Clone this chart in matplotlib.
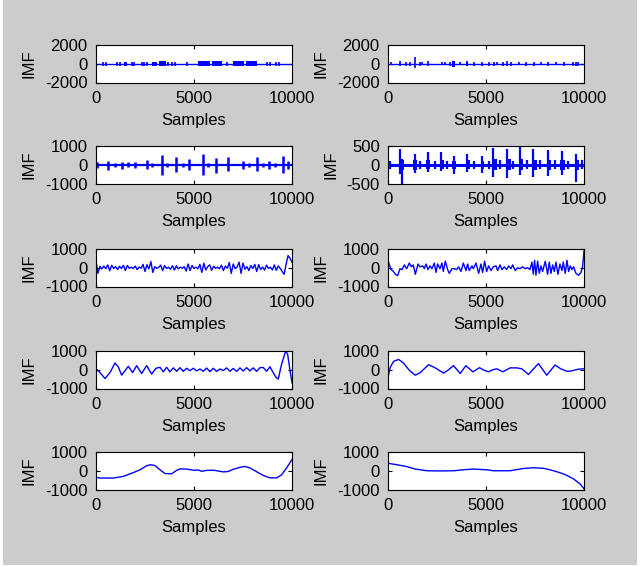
import matplotlib.pyplot as plt
from matplotlib.patches import Rectangle

plt.rcParams['font.family'] = ['Liberation Sans', 'DejaVu Sans']
plt.rcParams['font.size'] = 12
plt.rcParams['axes.unicode_minus'] = False

n_samples = 10000

# IMF 1 - isolated spikes and dense burst blocks
imf1_spike_pos = [374, 510, 1054, 1224, 1820, 1940, 2330, 2450, 2585, 3690, 3860,
                  4030, 4625, 6670, 8710, 8880, 9180, 9350]
imf1_spike_amp = [220, 200, 230, 200, 220, 200, 210, 200, 230, 220, 210,
                  230, 220, 230, 240, 220, 230, 200]
imf1_block_start = [1430, 2840, 3230, 5220, 5900, 7010, 7650]
imf1_block_end = [1600, 3095, 3570, 5800, 6410, 7550, 8200]
imf1_block_amp = [220, 200, 260, 250, 250, 250, 260]

# IMF 2
imf2_spike_pos = [153, 594, 934, 1104, 1358, 1613, 1732, 2020, 2750, 2920, 3175,
                  3650, 4024, 4397, 4788, 5178, 5416, 5586, 5891, 6095, 6265,
                  6706, 7046, 7453, 7793, 8183, 8574, 8981, 9457, 9593, 9712]
imf2_spike_up = [180, 250, 200, 220, 680, 200, 180, 250, 180, 180, 200,
                 180, 250, 200, 220, 200, 200, 180, 200, 250, 200,
                 180, 200, 200, 180, 200, 180, 200, 200, 220, 200]
imf2_spike_down = [180, 250, 200, 220, 500, 200, 180, 250, 180, 180, 200,
                   180, 250, 200, 220, 200, 200, 180, 200, 250, 200,
                   180, 200, 200, 180, 200, 180, 200, 200, 220, 200]
imf2_block_start = [3280, 3960]
imf2_block_end = [3440, 4080]
imf2_block_amp = [300, 200]

# IMF 3
imf3_spike_pos = [34, 595, 970, 1310, 1650, 1990, 2585, 2840, 3350, 3605, 4080,
                  4420, 4760, 5440, 5730, 6120, 6750, 7480, 7820, 8200, 8540,
                  8840, 9130, 9520, 9810]
imf3_spike_up = [150, 210, 100, 160, 130, 150, 250, 120, 520, 100, 390,
                 120, 290, 570, 120, 360, 390, 210, 100, 390, 120,
                 200, 100, 460, 200]
imf3_spike_down = [150, 290, 100, 200, 130, 150, 250, 120, 570, 100, 360,
                   120, 290, 570, 120, 430, 320, 210, 100, 320, 120,
                   200, 100, 430, 200]

# IMF 4
imf4_spike_pos = [119, 628, 713, 1358, 1647, 2020, 2411, 2700, 3005, 3345, 4024,
                  4364, 4788, 5128, 5382, 5722, 6095, 6401, 6740, 7080, 7419,
                  7759, 8183, 8523, 8862, 9203, 9593, 9915]
imf4_spike_up = [100, 430, 150, 300, 110, 345, 100, 345, 110, 230, 300,
                 110, 245, 110, 455, 120, 410, 110, 480, 120, 410,
                 120, 390, 120, 365, 110, 300, 120]
imf4_spike_down = [100, 250, 500, 210, 110, 180, 100, 160, 110, 245, 180,
                   110, 230, 110, 320, 120, 360, 110, 270, 120, 320,
                   120, 300, 120, 270, 110, 455, 120]
imf4_block_start = [560, 1300, 1960, 2640, 3280, 3960, 4720, 5320, 6030, 6680,
                    7360, 8120, 8800, 9530]
imf4_block_end = [820, 1500, 2160, 2840, 3480, 4160, 4920, 5560, 6260, 6900,
                  7580, 8340, 9020, 9760]
imf4_block_amp = [140, 130, 120, 120, 110, 120, 110, 150, 150, 150,
                  140, 140, 130, 140]

# IMF 5
imf5_x = list(range(0, 10001, 100))
imf5_y = [400, -300, 80, -60, 90, -50, 150, -160, 130, -40,
          60, -90, 80, -40, 130, -150, 120, -30, 30, -40,
          90, -100, 40, -30, 180, -200, 160, -60, 330, -250,
          60, -30, 20, 140, -150, 120, -40, 30, -80, 110,
          -120, 100, -60, 30, -30, 60, -180, 200, -150, 120,
          -40, 30, -60, 180, -250, 240, -120, 60, 150, -140,
          80, -30, 30, -50, 140, -150, 90, -30, 280, -300,
          200, -50, 40, 300, -300, 250, -80, 60, -150, 120,
          -40, 180, -200, 170, -100, 40, -130, 140, -40, 30,
          -120, 150, -140, 100, -40, -200, -350, 200, 650, 500,
          300]

# IMF 6
imf6_x = [0, 153, 238, 374, 493, 612, 714, 833, 952, 1088, 1190, 1292, 1394,
          1530, 1632, 1768, 1853, 1938, 2040, 2142, 2244, 2363, 2448, 2533,
          2652, 2754, 2822, 2924, 3043, 3128, 3264, 3383, 3502, 3604, 3723,
          3842, 3978, 4063, 4148, 4284, 4352, 4488, 4624, 4743, 4828, 4930,
          5032, 5134, 5253, 5372, 5508, 5593, 5712, 5814, 5933, 6052, 6154,
          6273, 6358, 6494, 6613, 6732, 6868, 7004, 7123, 7242, 7344, 7412,
          7480, 7548, 7633, 7718, 7803, 7888, 8024, 8143, 8228, 8313, 8398,
          8483, 8568, 8670, 8772, 8874, 8942, 9044, 9129, 9214, 9299, 9384,
          9469, 9588, 9724, 9843, 9928, 10000]
imf6_y = [400, -100, -150, -350, -420, -50, -100, 150, -50, 250, 50, 150, -350,
          200, 50, 100, -50, 200, -100, 100, -50, 250, -250, 200,
          -50, 250, -200, 350, -100, -300, -50, -50, -100, 50, -200,
          250, -150, 200, -150, 100, -50, 250, -300, 200, -250, 350,
          -200, 100, -150, 50, 100, -150, 150, -100, 50, -100, 100,
          -50, 150, -150, 0, -50, 50, -50, 0, -100, 300, -350,
          400, -400, 350, -300, 100, -200, 350, -350, 300, -300, 150,
          -200, 300, -350, 200, -150, 300, -300, 400, -200, 100, -100,
          50, -300, -400, -250, 50, 900]

# IMF 7
imf7_x = [0, 204, 459, 714, 969, 1139, 1309, 1479, 1649, 1870, 2074, 2329, 2584,
          2839, 3060, 3264, 3434, 3604, 3774, 3944, 4114, 4284, 4454, 4624,
          4794, 4964, 5134, 5304, 5474, 5644, 5814, 5984, 6154, 6324, 6494,
          6664, 6834, 7004, 7174, 7344, 7514, 7684, 7854, 8024, 8194, 8364,
          8534, 8704, 8874, 9010, 9180, 9299, 9469, 9673, 9775, 9894, 10000]
imf7_y = [50, -150, -470, -150, 360, 150, -290, -50, 180, -150, 220, -200, 220,
          -230, 80, 130, -110, 130, -110, 100, -80, 110, -90, 80,
          -50, 80, -60, 40, -80, 90, -100, 80, -90, 40, -40,
          100, -80, 70, -90, 100, -70, 110, -60, 100, -90, 110,
          120, -80, 160, -100, -400, -500, 300, 980, 850, 0, -700]

# IMF 8
imf8_x = [0, 119, 289, 543, 798, 1104, 1392, 1647, 2071, 2411, 2835, 3090, 3345,
          3685, 3973, 4330, 4669, 4907, 5128, 5349, 5553, 5858, 6231, 6571,
          6826, 7165, 7674, 8099, 8523, 8812, 9118, 9322, 9713, 10000]
imf8_y = [-420, 150, 450, 550, 350, -50, -290, -150, 270, 100, -180, 0, 220,
          -200, 220, -110, 110, -30, -110, 0, 50, -110, 100, 100,
          50, -250, 330, -290, 250, 50, -80, -70, 30, 50]

# IMF 9
imf9_x = [0, 204, 884, 1394, 1904, 2244, 2584, 2788, 3009, 3264, 3519, 3859,
          4114, 4284, 4624, 4964, 5219, 5389, 5644, 5984, 6324, 6494, 6749,
          7004, 7344, 7599, 7854, 8194, 8534, 8874, 9214, 9469, 9724, 10000]
imf9_y = [-350, -390, -390, -300, -100, 50, 270, 320, 280, 50, -150, -160,
          20, 100, 90, 30, 40, -30, 20, 30, -30, -60, -40,
          80, 180, 230, 150, -50, -250, -380, -380, -220, 150, 600]

# IMF 10 (residue)
imf10_x = [0, 458, 968, 1392, 1987, 2666, 3345, 3939, 4364, 5043, 5383, 6232,
           6911, 7420, 7930, 8269, 8609, 9033, 9458, 9797, 10000]
imf10_y = [400, 320, 220, 90, 0, -10, 0, 60, 90, 50, 0, 0,
           120, 160, 130, 50, -50, -200, -430, -700, -960]

ylims = [2000, 2000, 1000, 500, 1000, 1000, 1000, 1000, 1000, 1000]

# axes layout in pixels (left, top) of a 640x567 figure
col_left = [96, 388]
row_top = [45, 146, 249, 351, 452]
ax_w, ax_h = 196, 37.5
W, H = 640, 567

fig = plt.figure(figsize=(6.4, 5.67), dpi=100, facecolor='white')
fig.patches.append(Rectangle((3 / W, 2 / H), 634 / W, 565 / H, transform=fig.transFigure,
                             facecolor='#cccccc', edgecolor='none', zorder=-10))

axes = []
for r in range(5):
    for c in range(2):
        ax = fig.add_axes([col_left[c] / W, (H - row_top[r] - ax_h) / H, ax_w / W, ax_h / H])
        axes.append(ax)

blue = (0, 0, 1)

def spikes(ax, pos, up, down, base_lw=1.0, lw=1.2):
    ax.plot([0, n_samples], [0, 0], color=blue, lw=base_lw)
    ax.vlines(pos, [-d for d in down], up, color=blue, lw=lw)

def blocks(ax, start, end, amp):
    for s, e, a in zip(start, end, amp):
        ax.fill_between([s, e], -a, a, color=blue, lw=0)

spikes(axes[0], imf1_spike_pos, imf1_spike_amp, imf1_spike_amp)
blocks(axes[0], imf1_block_start, imf1_block_end, imf1_block_amp)
spikes(axes[1], imf2_spike_pos, imf2_spike_up, imf2_spike_down)
blocks(axes[1], imf2_block_start, imf2_block_end, imf2_block_amp)
spikes(axes[2], imf3_spike_pos, imf3_spike_up, imf3_spike_down, base_lw=1.6, lw=1.8)
spikes(axes[3], imf4_spike_pos, imf4_spike_up, imf4_spike_down, base_lw=2.2, lw=1.6)
blocks(axes[3], imf4_block_start, imf4_block_end, imf4_block_amp)
axes[4].plot(imf5_x, imf5_y, color=blue, lw=1.0)
axes[5].plot(imf6_x, imf6_y, color=blue, lw=1.0)
axes[6].plot(imf7_x, imf7_y, color=blue, lw=1.0)
axes[7].plot(imf8_x, imf8_y, color=blue, lw=1.0)
axes[8].plot(imf9_x, imf9_y, color=blue, lw=1.0)
axes[9].plot(imf10_x, imf10_y, color=blue, lw=1.0)

for ax, lim in zip(axes, ylims):
    ax.set_xlim(0, n_samples)
    ax.set_ylim(-lim, lim)
    ax.set_xticks([0, 5000, 10000])
    ax.set_xticklabels(['0', '5000', '10000'])
    ax.set_yticks([-lim, 0, lim])
    ax.set_yticklabels([str(-lim), '0', str(lim)])
    ax.tick_params(direction='in', top=True, right=True, length=3, width=0.8, pad=6)
    ax.set_xlabel('Samples', labelpad=5)
    ax.set_ylabel('IMF', labelpad=6)
    for sp in ax.spines.values():
        sp.set_linewidth(0.8)

fig.savefig('out.png', dpi=100, facecolor=fig.get_facecolor())
